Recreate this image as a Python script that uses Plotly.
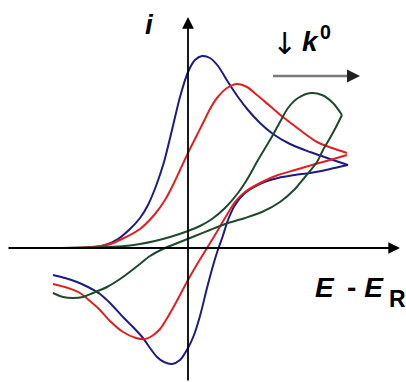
"""
Cyclic voltammograms for decreasing k0, recreated with plotly
"""

import plotly.graph_objects as go

# potential E - E_R and current i, arbitrary units
blue_fwd_E = [-12.8, -9.8, -8.3, -7.0, -5.8, -4.8, -4.0, -3.2, -2.4, -1.6, -0.8, 0.0, 0.7,
              1.4, 2.2, 3.0, 4.0, 5.0, 6.0, 7.2, 8.5, 10.2, 12.2, 14.2, 16.0]
blue_fwd_i = [0.0, 0.05, 0.3, 0.9, 1.9, 3.0, 4.3, 6.2, 8.6, 11.8, 15.1, 17.6, 18.8,
              19.2, 19.0, 18.2, 16.6, 15.1, 13.8, 12.5, 11.4, 10.4, 9.6, 8.9, 8.3]
blue_rev_E = [16.0, 14.2, 12.2, 10.7, 9.0, 7.4, 5.7, 4.7, 4.0, 3.45, 3.05, 2.55, 1.9, 1.2,
              0.6, 0.0, -0.8, -1.6, -2.4, -3.1, -3.8, -4.5, -5.5, -6.5, -7.8, -8.8, -10.0,
              -11.1, -12.3, -13.5]
blue_rev_i = [8.3, 7.9, 7.5, 7.3, 7.0, 6.5, 5.5, 4.3, 2.8, 1.1, 0.0, -1.6, -4.0, -6.8,
              -8.7, -10.0, -11.2, -11.6, -11.4, -10.9, -10.0, -9.0, -7.9, -6.9, -5.5, -4.6,
              -3.9, -3.4, -3.0, -2.7]

red_fwd_E = [-12.8, -9.8, -8.1, -6.6, -4.8, -3.3, -2.3, -1.5, -0.8, 0.0, 0.8, 1.5, 2.2,
             2.9, 3.9, 4.9, 5.9, 6.9, 8.2, 9.5, 11.2, 12.9, 14.4, 15.9]
red_fwd_i = [0.0, 0.1, 0.3, 0.9, 1.9, 3.4, 4.8, 6.3, 7.8, 9.5, 11.1, 12.5, 13.9,
             15.0, 16.0, 16.4, 16.1, 15.3, 14.2, 13.1, 11.8, 10.6, 10.0, 9.5]
red_rev_E = [15.9, 14.2, 12.4, 10.7, 9.0, 7.4, 5.7, 4.7, 3.7, 2.7, 1.9, 1.1, 0.0, -0.8,
             -1.5, -2.2, -2.8, -3.6, -4.3, -5.2, -6.5, -7.8, -8.8, -9.8, -10.8, -12.0, -13.5]
red_rev_i = [9.3, 8.8, 8.3, 7.8, 7.3, 6.6, 5.6, 4.6, 3.0, 1.3, 0.0, -1.3, -3.2, -4.7,
             -6.0, -7.2, -8.1, -8.8, -9.1, -9.0, -8.4, -7.3, -6.2, -5.3, -4.5, -4.0, -3.6]

green_fwd_E = [-12.8, -9.8, -8.1, -6.3, -4.8, -3.3, -1.8, 0.0, 1.2, 2.4, 3.7, 5.0, 6.0,
               7.0, 8.2, 9.2, 10.0, 11.0, 12.3, 13.4, 14.5, 15.4]
green_fwd_i = [0.0, 0.05, 0.1, 0.2, 0.4, 0.7, 1.1, 1.7, 2.2, 2.9, 4.0, 5.5, 7.0,
               8.8, 10.8, 12.6, 14.0, 15.0, 15.5, 15.3, 14.5, 13.3]
green_rev_E = [15.4, 14.8, 14.2, 13.5, 12.9, 11.7, 10.7, 9.2, 7.4, 5.7, 4.0, 2.2, 0.7,
               -0.8, -2.3, -3.8, -4.8, -6.5, -8.1, -9.5, -10.5, -11.5, -12.5, -13.5]
green_rev_i = [13.3, 12.1, 11.0, 9.8, 8.6, 7.1, 5.9, 4.6, 3.6, 3.0, 2.5, 1.8, 1.2,
               0.6, 0.0, -0.8, -1.6, -2.9, -3.9, -4.5, -4.9, -5.0, -4.9, -4.5]

curves = [
    ("#1c1c84", blue_fwd_E, blue_fwd_i, blue_rev_E, blue_rev_i),
    ("#e11f1f", red_fwd_E, red_fwd_i, red_rev_E, red_rev_i),
    ("#1d4a2c", green_fwd_E, green_fwd_i, green_rev_E, green_rev_i),
]

fig = go.Figure()
for color, fwd_E, fwd_i, rev_E, rev_i in curves:
    for E, i in ((fwd_E, fwd_i), (rev_E, rev_i)):
        fig.add_trace(
            go.Scatter(
                x=E, y=i,
                mode="lines",
                line=dict(color=color, width=2, shape="spline", smoothing=0.8),
                hoverinfo="skip"
            )
        )

# axes drawn as arrows
arrow = dict(xref="x", yref="y", axref="x", ayref="y", text="", showarrow=True,
             arrowhead=2, arrowsize=1.3, arrowwidth=1.8, arrowcolor="black")
fig.add_annotation(x=0.0, y=23.1, ax=0.0, ay=-13.4, **arrow)
fig.add_annotation(x=21.2, y=0.0, ax=-18.1, ay=0.0, **arrow)

# k0 direction arrow
fig.add_shape(type="line", x0=8.5, y0=17.2, x1=16.5, y1=17.2,
              line=dict(color="#7a7a7a", width=2.5))
fig.add_annotation(x=17.2, y=17.2, ax=15.8, ay=17.2, xref="x", yref="y",
                   axref="x", ayref="y", text="", showarrow=True, arrowhead=2,
                   arrowsize=1.3, arrowwidth=2, arrowcolor="#222222")

label_font = dict(family="Liberation Sans, Arial", size=28, color="black")
fig.add_annotation(x=-3.9, y=22.4, text="<b><i>i</i></b>", showarrow=False,
                   font=label_font, xanchor="center", yanchor="middle")
fig.add_annotation(x=9.6, y=20.5, text="↓", showarrow=False,
                   font=dict(family="DejaVu Sans", size=30, color="black"),
                   xanchor="center", yanchor="middle")
fig.add_annotation(x=11.2, y=20.9, text="<b><i>k</i>&#8202;<sup>0</sup></b>",
                   showarrow=False, font=label_font, xanchor="left", yanchor="middle")
fig.add_annotation(x=12.5, y=-3.9,
                   text="<b><i>E</i>&nbsp;&#8201;-&nbsp;<i>E</i></b>",
                   showarrow=False, font=label_font, xanchor="left", yanchor="middle")
fig.add_annotation(x=19.9, y=-5.1, text="<b>R</b>", showarrow=False,
                   font=dict(family="Liberation Sans, Arial", size=23, color="black"),
                   xanchor="left", yanchor="middle")

fig.update_layout(
    width=406,
    height=382,
    margin=dict(l=0, r=0, t=0, b=0),
    paper_bgcolor="white",
    plot_bgcolor="white",
    showlegend=False,
    xaxis=dict(visible=False, range=[-18.8, 21.8], fixedrange=True),
    yaxis=dict(visible=False, range=[-13.4, 24.8], fixedrange=True)
)

# page body keeps its default 8px margin otherwise
fig.write_html("out.html", config={"displayModeBar": False},
               post_script="document.body.style.margin = '0';")
